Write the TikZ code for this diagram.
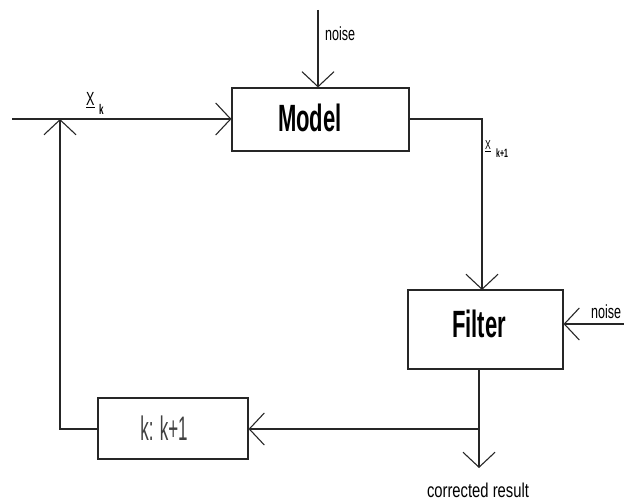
\documentclass[tikz,border=0pt]{standalone}
\usepackage{fontspec}
\usetikzlibrary{arrows.meta}
\newfontfamily\narrowfont{Liberation Sans}[FakeStretch=0.66]
\newfontfamily\widerfont{Liberation Sans}[FakeStretch=0.74]
\newfontfamily\narrowbold{Liberation Sans Bold}[FakeStretch=0.58]
\newfontfamily\thinfont{Liberation Sans}[FakeStretch=0.5]
\begin{document}
\begin{tikzpicture}[x=1pt,y=-1pt,
  wire/.style={line width=1.1pt,black!85},
  barb/.style={wire,-{Straight Barb[length=15pt,width=32pt,line width=1.1pt]}},
  blockbox/.style={draw,line width=1.1pt,black!85,minimum width=#1,inner sep=0pt},
  small/.style={font=\narrowfont\fontsize{19}{19}\selectfont,inner sep=0pt}]
\useasboundingbox (0,0) rectangle (624,502);

% blocks
\node[blockbox=177pt,minimum height=63pt] (model) at (320.5,119.5) {};
\node[blockbox=155pt,minimum height=79pt] (filter) at (485.5,329.5) {};
\node[blockbox=150pt,minimum height=61pt] (step) at (173,428.5) {};

% block captions
\node[font=\narrowbold\fontsize{38}{38}\selectfont,inner sep=0pt] (modeltxt) at (310,118) {Model};
\node[font=\narrowbold\fontsize{38}{38}\selectfont,inner sep=0pt] (filtertxt) at (479,324) {Filter};
\node[font=\thinfont\fontsize{34}{34}\selectfont,inner sep=0pt,black!75] (steptxt) at (164,428) {k: k+1};

% free ends
\coordinate (noiseA) at (318,10);
\coordinate (noiseB) at (624,324);
\coordinate (inlet) at (12,119);
\coordinate (outlet) at (479,468);
\coordinate (branch) at (479,429);
\coordinate (merge) at (60,119);
\coordinate (ftop) at (482,290);

% connectors
\draw[barb] (noiseA) -- (noiseA |- model.north);
\draw[wire] (inlet) -- (merge);
\draw[barb] (merge) -- (model.west |- merge);
\draw[barb] (model.east |- inlet) -| (ftop);
\draw[barb] (noiseB) -- (filter.east |- noiseB);
\draw[barb] (branch |- filter.south) -- (outlet);
\draw[barb] (branch) -- (step.east |- branch);
\draw[barb] (step.west |- branch) -| (merge);

% labels
\node[small,anchor=west] (noisetop) at (325,34) {noise};
\node[small,anchor=west] (noiseright) at (591,312) {noise};
\node[font=\widerfont\fontsize{20}{20}\selectfont,inner sep=0pt] (result) at (478,490) {corrected result};
\node[font=\narrowfont\fontsize{19}{19}\selectfont,inner sep=0pt,anchor=south west] (xk) at (86,108) {\underline{X}};
\node[font=\narrowbold\fontsize{14}{14}\selectfont,inner sep=0pt,anchor=south west] (xksub) at (99,115) {k};
\node[font=\narrowfont\fontsize{13}{13}\selectfont,inner sep=0pt,anchor=south west] (xk1) at (485,152) {\underline{X}};
\node[font=\narrowbold\fontsize{12}{12}\selectfont,inner sep=0pt,anchor=south west] (xk1sub) at (496,158) {k+1};
\end{tikzpicture}
\end{document}
